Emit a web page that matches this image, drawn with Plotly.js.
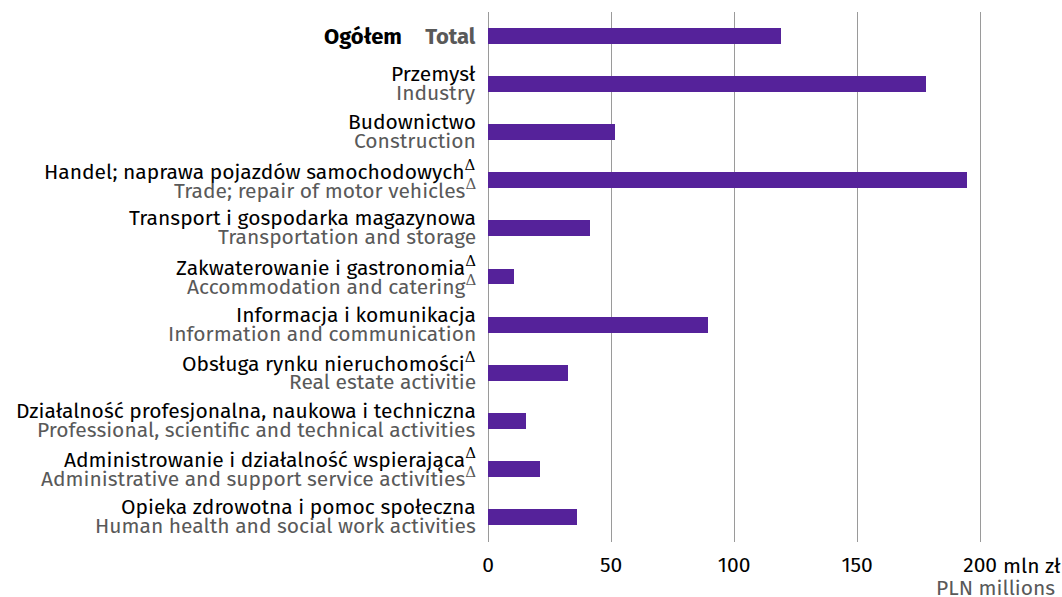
<!DOCTYPE html>
<html>
<head>
<meta charset="utf-8">
<script src="https://cdn.plot.ly/plotly-3.0.1.min.js"></script>
<style>
  body { margin: 0; background: #fff; }
  #graphics { width: 1062px; height: 597px; }
</style>
</head>
<body>
<div id="graphics"></div>
<script>
var categories = ['Ogółem', 'Przemysł', 'Budownictwo', 'Handel', 'Transport', 'Zakwaterowanie',
  'Informacja', 'Nieruchomości', 'Działalność profesjonalna', 'Administrowanie', 'Opieka zdrowotna'];
var values = [119, 178, 51.5, 194.5, 41.5, 10.5, 89.5, 32.5, 15.5, 21, 36];

var plLabels = ['Ogółem', 'Przemysł', 'Budownictwo', 'Handel; naprawa pojazdów samochodowych',
  'Transport i gospodarka magazynowa', 'Zakwaterowanie i gastronomia', 'Informacja i komunikacja',
  'Obsługa rynku nieruchomości', 'Działalność profesjonalna, naukowa i techniczna',
  'Administrowanie i działalność wspierająca', 'Opieka zdrowotna i pomoc społeczna'];
var enLabels = ['Total', 'Industry', 'Construction', 'Trade; repair of motor vehicles',
  'Transportation and storage', 'Accommodation and catering', 'Information and communication',
  'Real estate activitie', 'Professional, scientific and technical activities',
  'Administrative and support service activities', 'Human health and social work activities'];
var plDelta = [false, false, false, true, false, true, false, true, false, true, false];
var enDelta = [false, false, false, true, false, true, false, false, false, true, false];

var xTicks = [0, 50, 100, 150, 200];
var xTickText = ['0', '50', '100', '150', '200'];

var purple = '#55229a';
var grey = '#595959';
var font = 'Fira Sans, Roboto, sans-serif';
var fs = 21;

var trace = {
  type: 'bar',
  orientation: 'h',
  x: values,
  y: categories,
  width: 0.33,
  marker: { color: purple },
  hoverinfo: 'x'
};

// two-line labels (Polish black, English grey) drawn as annotations for tight spacing
var annotations = [];
var tri = '<sup><span style="font-family:DejaVu Serif;font-size:15px">Δ</span></sup>';
for (var i = 0; i < categories.length; i++) {
  if (i === 0) {
    annotations.push({
      xref: 'paper', yref: 'y', x: 0, y: categories[i], xanchor: 'right', yanchor: 'middle',
      xshift: -10, showarrow: false,
      text: '<b>' + plLabels[i] + '</b>    <b><span style="color:' + grey + '">' + enLabels[i] + '</span></b>',
      font: { family: font, size: fs + 1, color: '#000' }
    });
    continue;
  }
  annotations.push({
    xref: 'paper', yref: 'y', x: 0, y: categories[i], xanchor: 'right', yanchor: 'middle',
    xshift: -10, yshift: 10, showarrow: false,
    text: plLabels[i] + (plDelta[i] ? tri : ''),
    font: { family: font, size: fs, color: '#000' }
  });
  annotations.push({
    xref: 'paper', yref: 'y', x: 0, y: categories[i], xanchor: 'right', yanchor: 'middle',
    xshift: -10, yshift: -9, showarrow: false,
    text: enLabels[i] + (enDelta[i] ? tri : ''),
    font: { family: font, size: fs, color: grey }
  });
}
annotations.push({
  xref: 'x', yref: 'paper', x: 200, y: 0, xanchor: 'left', yanchor: 'middle',
  xshift: 21, yshift: -24, showarrow: false, text: 'mln zł',
  font: { family: font, size: fs, color: '#000' }
});
annotations.push({
  xref: 'paper', yref: 'paper', x: 1, y: 0, xanchor: 'right', yanchor: 'middle',
  xshift: 3, yshift: -46, showarrow: false, text: 'PLN millions',
  font: { family: font, size: fs, color: grey }
});

var layout = {
  width: 1062,
  height: 597,
  margin: { l: 488, r: 8, t: 12, b: 55 },
  paper_bgcolor: '#fff',
  plot_bgcolor: '#fff',
  font: { family: font, size: fs, color: '#000' },
  showlegend: false,
  bargap: 0,
  xaxis: {
    range: [0, 230],
    tickvals: xTicks,
    ticktext: xTickText,
    showgrid: true,
    gridcolor: '#9a9a9a',
    gridwidth: 1,
    zeroline: true,
    zerolinecolor: '#9a9a9a',
    zerolinewidth: 1,
    showline: false,
    ticks: '',
    ticklabelstandoff: 8,
    tickfont: { family: font, size: fs, color: '#000' }
  },
  yaxis: {
    type: 'category',
    autorange: 'reversed',
    showticklabels: false,
    showgrid: false,
    zeroline: false,
    ticks: ''
  },
  annotations: annotations
};

Plotly.newPlot('graphics', [trace], layout, { displayModeBar: false, staticPlot: true });
</script>
</body>
</html>
